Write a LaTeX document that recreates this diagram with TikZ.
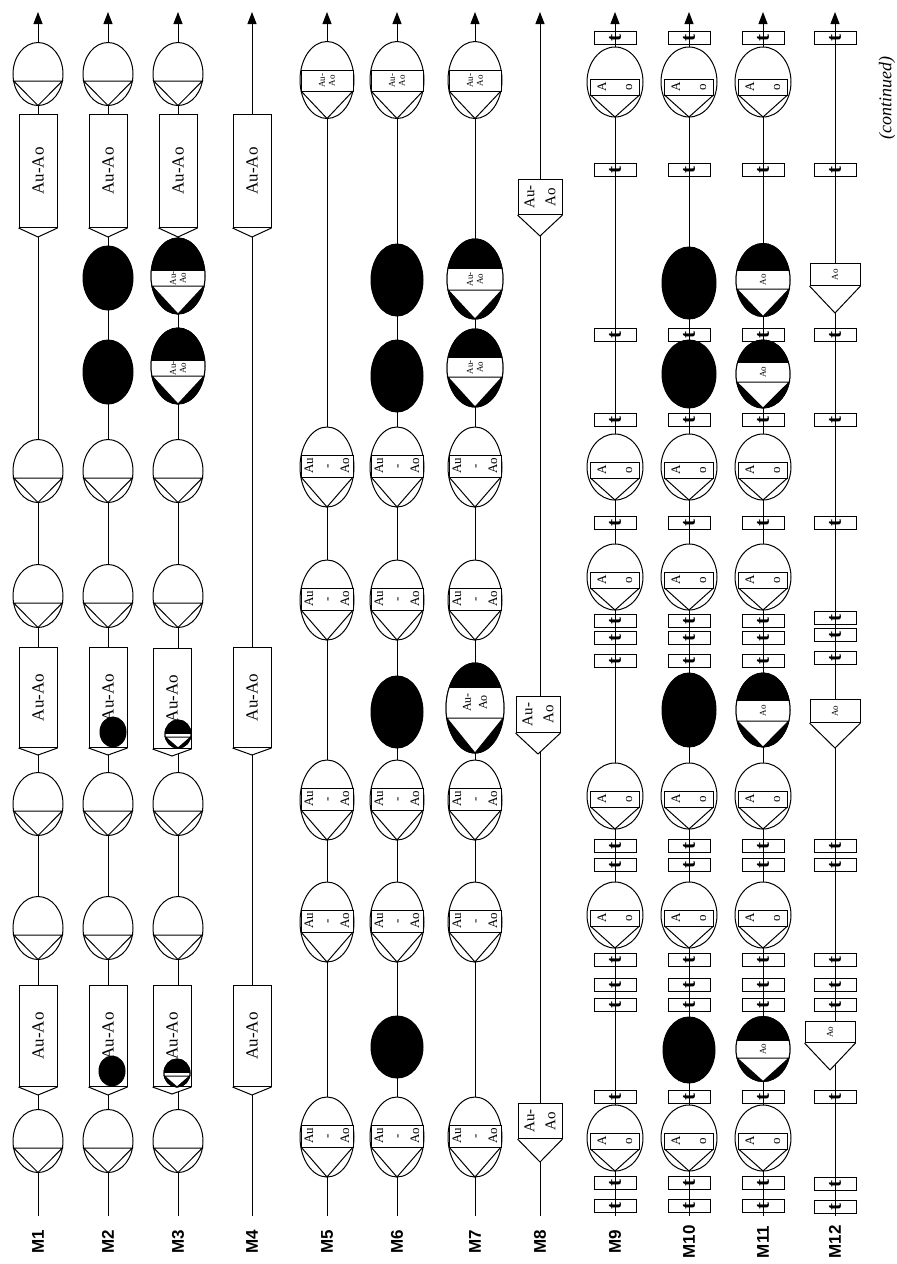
\documentclass[tikz,border=0pt]{standalone}
\usepackage{fontspec}
\setmainfont{Liberation Serif}
\newfontfamily\LblFont{Liberation Sans}
\usepackage{graphicx}
\usetikzlibrary{shapes.geometric,arrows.meta}
\newcommand{\FSz}[2]{\fontsize{#1}{#2}\selectfont}
\tikzset{
 ell/.style={draw, ellipse, inner sep=0pt, outer sep=0pt, fill=white},
 blk/.style={draw, ellipse, inner sep=0pt, outer sep=0pt, fill=black},
 rbox/.style={draw, rectangle, fill=white, inner sep=0pt, minimum width=38pt, anchor=north},
 pbox/.style={draw, rectangle, fill=white, inner sep=0pt, anchor=north},
 tbox/.style={draw, rectangle, inner sep=0pt, minimum width=42pt, minimum height=13pt, font=\FSz{21}{21}\bfseries},
 txt/.style={rotate=90, inner sep=0pt, align=center},
 tAuAoA/.style={font=\FSz{13}{18}, node contents={Au\\-\\Ao}},
 tAuAoS/.style={font=\FSz{9}{10}, node contents={Au-\\Ao}},
 tAuAoM/.style={font=\FSz{12}{16}, node contents={Au-\\Ao}},
 tAuAoL/.style={font=\FSz{15}{21}, node contents={Au-\\Ao}},
 tAo/.style={font=\FSz{13}{26}, node contents={A\\o}},
 tAoS/.style={font=\FSz{9}{10}, node contents={Ao}},
 tNone/.style={node contents={}},
 lbl/.style={rotate=90, font=\LblFont\bfseries\FSz{17}{17}},
 axis/.style={-{Triangle[length=12pt,width=9pt]}},
}
\newcommand{\ElTri}[3]{%
 \node[ell, minimum width=50pt, minimum height=63pt] (#1) at (#2,#3) {};
 \draw (#2-24.4,#3+7) -- (#2+24.4,#3+7) -- (#2,#3+31.5) -- cycle;}
\newcommand{\ElBand}[9]{%
 \node[ell, minimum width={2*#4}, minimum height={2*#5}] (#1) at (#2,#3) {};
 \draw[fill=white] (#2-#8,{#3+(#6)}) rectangle (#2+#8,{#3+(#7)});
 \draw (#2-#8,{#3+(#7)}) -- (#2,#3+#5) -- (#2+#8,{#3+(#7)});
 \node[txt, name=#1t, at={(#2,{#3+((#6)+(#7))/2})}, #9];}
\newcommand{\ElHalf}[8]{%
 \node[blk, minimum width={2*#4}, minimum height={2*#5}] (#1) at (#2,#3) {};
 \pgfmathsetmacro{\HwB}{#4*sqrt(1-(#7)*(#7)/((#5)*(#5)))}%
 \begin{scope}
 \clip (#2,#3) ellipse [x radius=#4, y radius=#5];
 \fill[white] (#2-#4,{#3+(#6)}) rectangle (#2+#4,{#3+(#7)});
 \draw (#2-#4,{#3+(#6)}) -- (#2+#4,{#3+(#6)}) (#2-#4,{#3+(#7)}) -- (#2+#4,{#3+(#7)});
 \end{scope}
 \draw[fill=white] (#2-\HwB,{#3+(#7)}) -- (#2,#3+#5) -- (#2+\HwB,{#3+(#7)}) -- cycle;
 \draw (#2,#3) ellipse [x radius=#4, y radius=#5];
 \node[txt, name=#1t, at={(#2,{#3+((#6)+(#7))/2})}, #8];}
\newcommand{\ElBlk}[5]{\node[blk, minimum width={2*#4}, minimum height={2*#5}] (#1) at (#2,#3) {};}
\newcommand{\RectV}[6]{%
 \node[rbox, minimum height={#4-#3}] (#1) at (#2,#3) {};
 \draw[fill=white] (#1.south west) -- (#2,#5) -- (#1.south east);
 \node[txt, font=\FSz{17}{17}] (#1t) at (#1.center) {#6};}
\newcommand{\Pent}[7]{%
 \node[pbox, minimum width={2*#6}, minimum height={#4-#3}] (#1) at (#2,#3) {};
 \draw[fill=white] (#1.south west) -- (#2,#5) -- (#1.south east);
 \node[txt, name=#1t, at={(#1.center)}, #7];}
\newcommand{\Tb}[3]{\node[tbox] (#1) at (#2,#3) {\rotatebox{90}{t}};}
\begin{document}
\begin{tikzpicture}[x=1pt,y=-1pt,line width=1pt]
\useasboundingbox (0,0) rectangle (897,1264);
% axes and labels
\foreach \cx/\cn in {38/1,108/2,178/3,252/4,327/5,397/6,475/7,540/8,615/9,689/10,763/11,835/12}{
 \coordinate (m\cn b) at (\cx,1216);
 \coordinate (m\cn t) at (\cx,12);
 \draw[axis] (m\cn b) -- (m\cn t);
 \node[lbl] (m\cn l) at (\cx,1242) {M\cn};
}
\node[rotate=90, font=\itshape\FSz{18}{18}] (cont) at (887,98) {(continued)};
% M1 - M3
\foreach \cx/\cn in {38/a,108/b,178/c}{
 \ElTri{\cn1}{\cx}{74}
 \RectV{\cn2}{\cx}{114}{227}{237}{Au-Ao}
 \ElTri{\cn3}{\cx}{471}
 \ElTri{\cn4}{\cx}{596}
 \ElTri{\cn6}{\cx}{804}
 \ElTri{\cn7}{\cx}{928}
 \ElTri{\cn9}{\cx}{1141}
}
\RectV{a5}{38}{647}{747}{755}{Au-Ao}
\RectV{a8}{38}{985}{1086}{1095}{Au-Ao}
\RectV{b5}{108}{647}{747}{755}{Au-Ao}
\RectV{b8}{108}{985}{1086}{1095}{Au-Ao}
\RectV{c5}{172}{648}{748}{756}{Au-Ao}
\RectV{c8}{172}{985}{1086}{1094}{Au-Ao}
\ElBlk{bk1}{108}{278}{25}{32}
\ElBlk{bk2}{108}{372}{25}{32}
\ElBlk{bk3}{113}{732}{13}{15}
\ElBlk{bk4}{112}{1071}{13}{15}
\ElHalf{ch1}{178}{276}{27}{38}{-6}{10}{tAuAoS}
\ElHalf{ch2}{178}{366}{27}{38}{-6}{10}{tAuAoS}
\ElHalf{ch3}{178}{734}{13}{14}{-1}{3}{tNone}
\ElHalf{ch4}{177}{1073}{13}{14}{-1}{3}{tNone}
% M4
\RectV{d1}{252}{114}{227}{237}{Au-Ao}
\RectV{d2}{252}{647}{747}{755}{Au-Ao}
\RectV{d3}{252}{985}{1086}{1095}{Au-Ao}
% M5 - M7
\foreach \cx/\cn in {327/e,397/f,475/g}{
 \ElBand{\cn1}{\cx}{80}{27}{38.5}{-10}{11}{26}{tAuAoS}
 \ElBand{\cn2}{\cx}{467}{27}{40}{-12}{10}{26}{tAuAoA}
 \ElBand{\cn3}{\cx}{600}{27}{40}{-12}{10}{26}{tAuAoA}
 \ElBand{\cn4}{\cx}{800}{27}{40}{-12}{10}{26}{tAuAoA}
 \ElBand{\cn5}{\cx}{922}{27}{40}{-12}{10}{26}{tAuAoA}
 \ElBand{\cn6}{\cx}{1137}{27}{40}{-12}{10}{26}{tAuAoA}
}
\ElBlk{fk1}{397}{280}{26}{36}
\ElBlk{fk2}{397}{376}{26}{36}
\ElBlk{fk3}{397}{712}{26}{36}
\ElBlk{fk4}{397}{1047}{26}{31}
\ElHalf{gh1}{475}{279}{28}{40}{-11}{11}{tAuAoS}
\ElHalf{gh2}{475}{368}{28}{39}{-11}{9}{tAuAoS}
\ElHalf{gh3}{475}{708}{29}{45}{-21}{10}{tAuAoM}
% M8
\Pent{h1}{540}{179}{214}{236}{22}{tAuAoL}
\Pent{h2}{538}{696}{732}{754}{22}{tAuAoL}
\Pent{h3}{540}{1103}{1138}{1162}{22}{tAuAoL}
% M9 - M11
\foreach \cx/\cn in {615/i,689/j,763/k}{
 \foreach \yy [count=\q] in {38,170,335,420,523,621,638,661,846,865,960,985,1005,1097,1183,1206}{
  \Tb{\cn t\q}{\cx}{\yy}
 }
 \ElBand{\cn1}{\cx}{82}{28}{35}{-3}{13}{24.5}{tAo}
 \ElBand{\cn2}{\cx}{467}{28}{33}{-5}{11}{24.5}{tAo}
 \ElBand{\cn3}{\cx}{577}{28}{33}{-5}{11}{24.5}{tAo}
 \ElBand{\cn4}{\cx}{796}{28}{33}{-5}{11}{24.5}{tAo}
 \ElBand{\cn5}{\cx}{915}{28}{33}{-5}{11}{24.5}{tAo}
 \ElBand{\cn6}{\cx}{1138}{28}{33}{-5}{11}{24.5}{tAo}
}
\ElBlk{jk1}{689}{283}{27}{36}
\ElBlk{jk2}{689}{374}{27}{34}
\ElBlk{jk3}{689}{710}{27}{37}
\ElBlk{jk4}{689}{1050}{26}{33}
\ElHalf{kh1}{763}{280}{27}{36.5}{-10}{9}{tAoS}
\ElHalf{kh2}{763}{374}{27}{34}{-12}{8}{tAoS}
\ElHalf{kh3}{763}{710}{27}{37}{-10}{11}{tAoS}
\ElHalf{kh4}{763}{1049}{27}{32.5}{-9}{9}{tAoS}
% M12
\foreach \yy [count=\q] in {38,170,335,420,523,618,635,658,846,865,960,985,1005,1097,1184,1207}{
 \Tb{lt\q}{835}{\yy}
}
\Pent{l1}{835}{263}{285}{313}{25}{tAoS}
\Pent{l2}{835}{699}{722}{748}{25}{tAoS}
\Pent{l3}{830}{1021}{1042}{1070}{25}{tAoS}
\end{tikzpicture}
\end{document}
